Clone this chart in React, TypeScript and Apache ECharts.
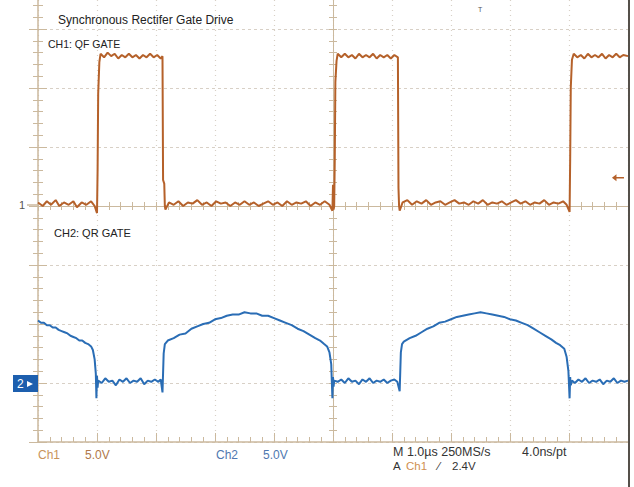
import React, { useEffect, useRef } from "react";
import * as echarts from "echarts";

// time axis in µs (1.0 µs/div), both channels 5.0 V/div
const timeMin = 0;
const timeMax = 10;
const ch1VoltsPerDiv = 5;
const ch2VoltsPerDiv = 5;
const ch1GroundDiv = 4;
const ch2GroundDiv = 1;
const screenDivs = 8;

const ch1Time = [
  0.0, 0.08, 0.15, 0.22, 0.3, 0.36, 0.44, 0.52, 0.6, 0.66, 0.74, 0.82, 0.9, 0.96, 1.0,
  1.01, 1.02, 1.04, 1.06,
  1.12, 1.18, 1.24, 1.3, 1.36, 1.42, 1.48, 1.54, 1.6, 1.66, 1.72, 1.78, 1.84, 1.9, 1.96, 2.02, 2.08, 2.11,
  2.12, 2.14, 2.15, 2.16,
  2.22, 2.3, 2.38, 2.46, 2.54, 2.62, 2.7, 2.78, 2.86, 2.94, 3.02, 3.1, 3.18, 3.26, 3.34, 3.42, 3.5, 3.58,
  3.66, 3.74, 3.82, 3.9, 3.98, 4.06, 4.14, 4.22, 4.3, 4.38, 4.46, 4.54, 4.62, 4.7, 4.78, 4.86, 4.94,
  4.99, 5.0, 5.01, 5.02,
  5.03, 5.04, 5.06, 5.08,
  5.14, 5.2, 5.26, 5.32, 5.38, 5.44, 5.5, 5.56, 5.62, 5.68, 5.74, 5.8, 5.86, 5.92, 5.98, 6.04, 6.1,
  6.11, 6.12, 6.13,
  6.18, 6.26, 6.34, 6.42, 6.5, 6.58, 6.66, 6.74, 6.82, 6.9, 6.98, 7.06, 7.14, 7.22, 7.3, 7.38, 7.46,
  7.54, 7.62, 7.7, 7.78, 7.86, 7.94, 8.02, 8.1, 8.18, 8.26, 8.34, 8.42, 8.5, 8.58, 8.66, 8.74, 8.82,
  8.9, 8.96, 9.01,
  9.02, 9.03, 9.05, 9.08,
  9.14, 9.2, 9.26, 9.32, 9.38, 9.44, 9.5, 9.56, 9.62, 9.68, 9.74, 9.8, 9.86, 9.92, 10.0,
];
const ch1Volts = [
  0.3, 0.0, 0.4, 0.1, 0.5, 0.0, 0.3, 0.1, 0.4, -0.1, 0.3, 0.1, 0.4, 0.0, -0.6,
  3.0, 9.5, 12.2, 12.9,
  12.6, 13.0, 12.7, 12.9, 12.5, 12.8, 12.6, 12.9, 12.6, 12.8, 12.5, 12.8, 12.6, 12.9, 12.6, 12.8, 12.5, 12.7,
  2.2, 1.9, 0.0, -0.3,
  0.3, 0.1, 0.4, 0.0, 0.3, 0.2, 0.5, 0.1, 0.3, 0.0, 0.4, 0.2, 0.3, 0.0, 0.3, 0.1, 0.4, 0.1,
  0.3, 0.0, 0.2, 0.4, 0.1, 0.3, 0.0, 0.4, 0.1, 0.3, 0.2, 0.4, 0.0, 0.3, 0.1, 0.4, 0.1,
  -0.4, 1.8, -0.3, 0.0,
  4.0, 10.5, 12.3, 12.9,
  12.6, 12.9, 12.6, 12.8, 12.5, 12.9, 12.6, 12.8, 12.6, 12.9, 12.5, 12.8, 12.6, 12.8, 12.5, 12.8, 12.6,
  1.5, 0.0, -0.4,
  0.3, 0.5, 0.1, 0.4, 0.2, 0.5, 0.1, 0.3, 0.4, 0.1, 0.3, 0.5, 0.2, 0.3, 0.1, 0.4, 0.2,
  0.5, 0.1, 0.3, 0.2, 0.4, 0.1, 0.3, 0.5, 0.2, 0.4, 0.1, 0.3, 0.2, 0.5, 0.1, 0.3, 0.2,
  0.4, 0.1, -0.5,
  4.0, 10.0, 12.4, 12.9,
  12.6, 12.8, 12.5, 12.9, 12.6, 12.8, 12.6, 12.9, 12.5, 12.8, 12.6, 12.9, 12.6, 12.8, 12.7,
];

const ch2Time = [
  0.0, 0.05, 0.1, 0.15, 0.2, 0.25, 0.3, 0.35, 0.4, 0.45, 0.5, 0.55, 0.6, 0.65, 0.7, 0.75, 0.8, 0.85, 0.9,
  0.93, 0.96, 0.98, 0.99, 1.0, 1.01, 1.02,
  1.08, 1.14, 1.2, 1.26, 1.32, 1.38, 1.44, 1.5, 1.56, 1.62, 1.68, 1.74, 1.8, 1.86, 1.92, 1.98, 2.04, 2.08, 2.11,
  2.13, 2.15, 2.2,
  2.3, 2.4, 2.5, 2.6, 2.7, 2.8, 2.9, 3.0, 3.1, 3.2, 3.3, 3.4, 3.5, 3.6, 3.7, 3.8, 3.9, 4.0, 4.1, 4.2, 4.3,
  4.4, 4.5, 4.6, 4.7, 4.78, 4.85, 4.9, 4.94, 4.97, 4.99, 5.0, 5.01, 5.02,
  5.08, 5.14, 5.2, 5.26, 5.32, 5.38, 5.44, 5.5, 5.56, 5.62, 5.68, 5.74, 5.8, 5.86, 5.92, 5.98, 6.04, 6.09, 6.13,
  6.15, 6.17, 6.2,
  6.3, 6.4, 6.5, 6.6, 6.7, 6.8, 6.9, 7.0, 7.1, 7.2, 7.3, 7.4, 7.5, 7.6, 7.7, 7.8, 7.9, 8.0, 8.1, 8.2, 8.3,
  8.4, 8.5, 8.6, 8.7, 8.78, 8.85, 8.92, 8.96, 8.99, 9.01, 9.02, 9.03, 9.05,
  9.1, 9.16, 9.22, 9.28, 9.34, 9.4, 9.46, 9.52, 9.58, 9.64, 9.7, 9.76, 9.82, 9.88, 9.94, 10.0,
];
const ch2Volts = [
  5.3, 5.1, 5.1, 4.9, 4.9, 4.7, 4.7, 4.5, 4.4, 4.3, 4.2, 4.0, 3.9, 3.8, 3.6, 3.6, 3.4, 3.3, 3.1,
  2.8, 2.0, 0.8, -1.3, 0.6, -0.4, 0.2,
  0.0, 0.4, 0.1, 0.2, -0.2, 0.3, 0.1, 0.4, 0.0, 0.2, 0.1, 0.4, -0.1, 0.2, 0.1, 0.3, 0.1, 0.3, -0.8,
  2.5, 3.3, 3.6,
  3.8, 4.1, 4.2, 4.6, 4.8, 5.0, 5.1, 5.4, 5.5, 5.7, 5.8, 5.8, 6.0, 5.9, 5.9, 5.7, 5.7, 5.5, 5.3, 5.1, 4.9,
  4.6, 4.4, 4.1, 3.8, 3.6, 3.3, 3.1, 2.6, 1.6, -1.3, 0.5, -0.3, 0.2,
  0.1, 0.3, 0.0, 0.4, 0.1, 0.2, -0.1, 0.3, 0.1, 0.4, 0.0, 0.2, 0.1, 0.3, 0.0, 0.2, 0.3, 0.1, -0.7,
  2.6, 3.3, 3.5,
  3.8, 4.0, 4.3, 4.6, 4.8, 5.1, 5.2, 5.4, 5.6, 5.7, 5.8, 5.9, 6.0, 5.9, 5.8, 5.7, 5.6, 5.4, 5.3, 5.1, 4.9,
  4.6, 4.3, 4.0, 3.7, 3.4, 3.2, 2.9, 2.2, 1.0, -1.3, 0.5, -0.2, 0.2,
  0.0, 0.3, 0.1, 0.4, 0.0, 0.2, 0.1, 0.3, -0.1, 0.2, 0.1, 0.4, 0.0, 0.2, 0.1, 0.2,
];

const triggerLevel = 2.4;
const triggerMarkTime = 9.83;

const titleText = "Synchronous Rectifer Gate Drive";
const ch1Label = "CH1: QF GATE";
const ch2Label = "CH2: QR GATE";

const FRAME = "#cbb99e";
const GRID_DOT = "#d8d0c6";
const CH1_COLOR = "#b5612a";
const CH2_COLOR = "#2a6db5";
const FONT = "'Liberation Sans', Arial, sans-serif";

function zip(t: number[], v: number[]) {
  return t.map((x, i) => [x, v[i]]);
}

export default function App() {
  const ref = useRef<HTMLDivElement>(null);

  useEffect(() => {
    if (!ref.current) return;
    const chart = echarts.init(ref.current, undefined, { renderer: "svg" });

    const gridBox = { left: 38, right: 6, top: -30, bottom: 45, outerBoundsMode: "none" };
    const ch1Min = -ch1GroundDiv * ch1VoltsPerDiv;
    const ch1Max = (screenDivs - ch1GroundDiv) * ch1VoltsPerDiv;
    const ch2Min = -ch2GroundDiv * ch2VoltsPerDiv;
    const ch2Max = (screenDivs - ch2GroundDiv) * ch2VoltsPerDiv;

    const centerAxisCommon = {
      type: "value" as const,
      axisLabel: { show: false },
      splitLine: { show: false },
      axisLine: { show: true, onZero: true, lineStyle: { color: FRAME, width: 1 } },
      axisTick: { show: true, inside: true, length: 4, lineStyle: { color: FRAME } },
      minorTick: { show: true, splitNumber: 5, length: 4, lineStyle: { color: FRAME } },
    };

    const txt = (text: string, x: number, y: number, fill: string, size = 12, extra: any = {}) => ({
      type: "text",
      x,
      y,
      z: 100,
      style: {
        text,
        fill,
        font: `${size}px ${FONT}`,
        verticalAlign: "middle",
        ...extra,
      },
    });

    chart.setOption({
      animation: false,
      backgroundColor: "#ffffff",
      grid: [
        { ...gridBox },
        { ...gridBox },
        { ...gridBox },
      ],
      xAxis: [
        {
          gridIndex: 0,
          type: "value",
          min: timeMin,
          max: timeMax,
          interval: 1,
          position: "bottom",
          axisLabel: { show: false },
          axisLine: { show: true, onZero: false, lineStyle: { color: FRAME, width: 1.5 } },
          axisTick: { show: true, inside: true, length: 9, lineStyle: { color: FRAME } },
          minorTick: { show: true, splitNumber: 5, length: 5, lineStyle: { color: FRAME } },
          splitLine: { show: true, lineStyle: { color: GRID_DOT, type: [1, 4], width: 1.2 } },
        },
        { gridIndex: 1, min: -5, max: 5, interval: 1, position: "bottom", ...centerAxisCommon },
        { gridIndex: 2, min: -5, max: 5, interval: 1, position: "top", ...centerAxisCommon },
      ],
      yAxis: [
        {
          gridIndex: 0,
          type: "value",
          min: ch1Min,
          max: ch1Max,
          interval: ch1VoltsPerDiv,
          position: "left",
          axisLabel: { show: false },
          axisLine: { show: true, onZero: false, lineStyle: { color: FRAME, width: 1.5 } },
          axisTick: { show: true, inside: true, length: 9, lineStyle: { color: FRAME } },
          minorTick: { show: true, splitNumber: 5, length: 5, lineStyle: { color: FRAME } },
          splitLine: { show: true, lineStyle: { color: GRID_DOT, type: [3, 3], width: 1.2 } },
        },
        {
          gridIndex: 0,
          type: "value",
          min: ch2Min,
          max: ch2Max,
          interval: ch2VoltsPerDiv,
          position: "right",
          axisLabel: { show: false },
          axisLine: { show: false },
          axisTick: { show: true, inside: true, length: 9, lineStyle: { color: FRAME } },
          minorTick: { show: true, splitNumber: 5, length: 5, lineStyle: { color: FRAME } },
          splitLine: { show: false },
        },
        { gridIndex: 1, min: -4, max: 4, interval: 1, position: "left", ...centerAxisCommon },
        { gridIndex: 2, min: -4, max: 4, interval: 1, position: "right", ...centerAxisCommon },
      ],
      series: [
        {
          name: "CH1",
          type: "line",
          xAxisIndex: 0,
          yAxisIndex: 0,
          data: zip(ch1Time, ch1Volts),
          showSymbol: false,
          symbol: "none",
          lineStyle: { color: CH1_COLOR, width: 2 },
          z: 5,
          markPoint: {
            symbol: "path://M0,5 L6,0 L6,4 L16,4 L16,6 L6,6 L6,10 Z",
            symbolSize: [12, 7],
            itemStyle: { color: CH1_COLOR },
            label: { show: false },
            data: [{ coord: [triggerMarkTime, triggerLevel] }],
          },
        },
        {
          name: "CH2",
          type: "line",
          xAxisIndex: 0,
          yAxisIndex: 1,
          data: zip(ch2Time, ch2Volts),
          showSymbol: false,
          symbol: "none",
          lineStyle: { color: CH2_COLOR, width: 2 },
          z: 5,
        },
      ],
      graphic: [
        // right border of the screen capture
        { type: "line", z: 100, shape: { x1: 629, y1: 0, x2: 629, y2: 487 }, style: { stroke: "#55504a", lineWidth: 2 } },
        txt(titleText, 58, 20, "#222"),
        txt(ch1Label, 48, 44, "#222", 10.5),
        txt(ch2Label, 54, 233, "#222", 11),
        // channel 1 ground marker
        txt("1", 19, 205, "#555", 11),
        { type: "line", z: 100, shape: { x1: 27, y1: 205, x2: 38, y2: 205 }, style: { stroke: FRAME, lineWidth: 1.5 } },
        // channel 2 ground marker
        { type: "rect", z: 100, shape: { x: 13, y: 375, width: 25, height: 17 }, style: { fill: "#1d5fae" } },
        txt("2", 17, 384, "#ffffff", 12),
        { type: "polygon", z: 101, shape: { points: [[27, 381], [33, 384], [27, 387]] }, style: { fill: "#ffffff" } },
        // trigger position marker
        txt("T", 478, 9, "#555", 7),
        // bottom readouts
        txt("Ch1", 38, 455, "#c8935a"),
        txt("5.0V", 85, 455, "#b0784a"),
        txt("Ch2", 216, 455, "#4f78b0"),
        txt("5.0V", 263, 455, "#4f78b0"),
        txt("M 1.0µs 250MS/s", 393, 452, "#333", 12.5),
        txt("4.0ns/pt", 522, 452, "#333", 12.5),
        txt("A", 393, 466, "#333", 11.5),
        txt("Ch1", 406, 466, "#d09050", 11.5),
        txt("⁄", 438, 466, "#333", 11.5),
        txt("2.4V", 452, 466, "#333", 11.5),
      ],
    });

    return () => chart.dispose();
  }, []);

  return (
    <div
      ref={ref}
      style={{ position: "fixed", left: 0, top: 0, width: 634, height: 487, background: "#fff" }}
    />
  );
}
